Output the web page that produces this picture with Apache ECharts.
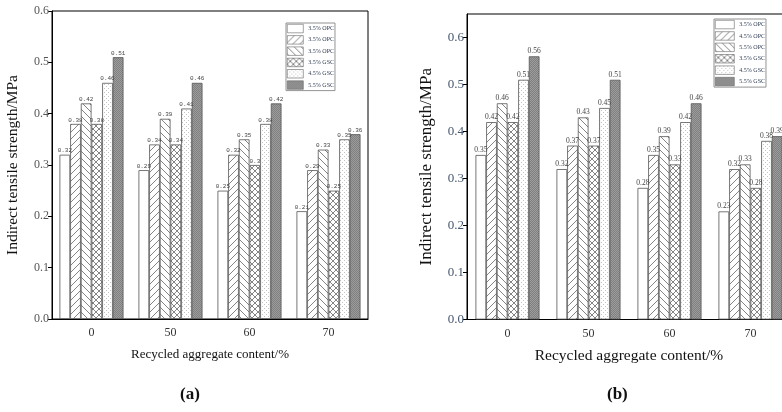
<!DOCTYPE html>
<html>
<head>
<meta charset="utf-8">
<script src="https://cdn.jsdelivr.net/npm/echarts@6/dist/echarts.min.js"></script>
<style>
  html, body { margin: 0; padding: 0; background: #fff; }
  #wrap { position: relative; width: 782px; height: 412px; overflow: hidden; }
  #chartA { position: absolute; left: 0; top: 0; width: 391px; height: 412px; }
  #chartB { position: absolute; left: 391px; top: 0; width: 391px; height: 412px; }
</style>
</head>
<body>
<div id="wrap"><div id="chartA"></div><div id="chartB"></div></div>
<script>
// Recycled aggregate content (%) on the category axis
const categories = ['0', '50', '60', '70'];

// Panel (a): legend labels as printed
const legendA = ['3.5% OPC', '3.5% OPC', '3.5% OPC', '3.5% GSC', '4.5% GSC', '5.5% GSC'];
const a_opc1 = [0.32, 0.29, 0.25, 0.21];
const a_opc2 = [0.38, 0.34, 0.32, 0.29];
const a_opc3 = [0.42, 0.39, 0.35, 0.33];
const a_gsc35 = [0.38, 0.34, 0.30, 0.25];
const a_gsc45 = [0.46, 0.41, 0.38, 0.35];
const a_gsc55 = [0.51, 0.46, 0.42, 0.36];
const yTicksA = [0, 0.1, 0.2, 0.3, 0.4, 0.5, 0.6];

// Panel (b)
const legendB = ['3.5% OPC', '4.5% OPC', '5.5% OPC', '3.5% GSC', '4.5% GSC', '5.5% GSC'];
const b_opc35 = [0.35, 0.32, 0.28, 0.23];
const b_opc45 = [0.42, 0.37, 0.35, 0.32];
const b_opc55 = [0.46, 0.43, 0.39, 0.33];
const b_gsc35 = [0.42, 0.37, 0.33, 0.28];
const b_gsc45 = [0.51, 0.45, 0.42, 0.38];
const b_gsc55 = [0.56, 0.51, 0.46, 0.39];
const yTicksB = [0, 0.1, 0.2, 0.3, 0.4, 0.5, 0.6];

// ---- fill patterns ----
function tile(size) {
  const c = document.createElement('canvas');
  c.width = size; c.height = size;
  const g = c.getContext('2d');
  g.fillStyle = '#fff';
  g.fillRect(0, 0, size, size);
  return [c, g];
}
function hatch(size, dirs, color, lw) {
  const [c, g] = tile(size);
  g.strokeStyle = color; g.lineWidth = lw;
  dirs.forEach(d => {
    g.beginPath();
    if (d === '/') {
      g.moveTo(-1, size + 1); g.lineTo(size + 1, -1);
      g.moveTo(-1, 1); g.lineTo(1, -1);
      g.moveTo(size - 1, size + 1); g.lineTo(size + 1, size - 1);
    } else {
      g.moveTo(-1, -1); g.lineTo(size + 1, size + 1);
      g.moveTo(size - 1, -1); g.lineTo(size + 1, 1);
      g.moveTo(-1, size - 1); g.lineTo(1, size + 1);
    }
    g.stroke();
  });
  return { image: c, repeat: 'repeat' };
}
function dots() {
  const [c, g] = tile(4);
  g.fillStyle = '#c4c4c4';
  g.fillRect(0, 0, 1, 1);
  g.fillRect(2, 2, 1, 1);
  return { image: c, repeat: 'repeat' };
}
function darkTexture() {
  const [c, g] = tile(2);
  g.fillStyle = '#9c9c9c'; g.fillRect(0, 0, 2, 2);
  g.fillStyle = '#808080'; g.fillRect(0, 0, 1, 1); g.fillRect(1, 1, 1, 1);
  return { image: c, repeat: 'repeat' };
}
const fills = [
  '#ffffff',
  hatch(7, ['/'], '#666', 0.8),
  hatch(7, ['\\'], '#666', 0.8),
  hatch(6, ['/', '\\'], '#666', 0.8),
  dots(),
  darkTexture()
];

function makeOption(cfg) {
  const keys = cfg.legend.map((_, i) => cfg.key + i);
  const labelOf = {};
  keys.forEach((k, i) => { labelOf[k] = cfg.legend[i]; });
  return {
    animation: false,
    backgroundColor: '#fff',
    grid: {
      left: cfg.grid.left, top: cfg.grid.top, width: cfg.grid.width, height: cfg.grid.height,
      outerBoundsMode: 'none',
      show: true, borderColor: '#000', borderWidth: 1, backgroundColor: 'transparent'
    },
    legend: {
      data: keys,
      orient: 'vertical',
      left: cfg.legendPos.left, top: cfg.legendPos.top,
      icon: 'rect',
      itemWidth: cfg.legendPos.iw, itemHeight: cfg.legendPos.ih,
      itemGap: cfg.legendPos.gap, itemTextGap: 1.5,
      padding: [1, 1, 1, 1],
      borderColor: '#777', borderWidth: 0.8,
      selectedMode: false,
      itemStyle: { borderColor: '#666', borderWidth: 0.6 },
      formatter: n => labelOf[n],
      textStyle: { fontFamily: 'Liberation Serif', fontSize: cfg.legendPos.fs, color: '#2e3b52' }
    },
    xAxis: {
      type: 'category',
      data: categories,
      name: 'Recycled aggregate content/%',
      nameLocation: 'middle',
      nameGap: cfg.xNameGap,
      nameTextStyle: { fontFamily: 'Liberation Serif', fontSize: cfg.xTitleSize, color: '#111' },
      axisLine: { lineStyle: { color: '#000', width: 1 } },
      axisTick: { show: false },
      axisLabel: { margin: 8, fontFamily: 'Liberation Serif', fontSize: 12, color: '#333' }
    },
    yAxis: {
      type: 'value',
      min: 0, max: cfg.yMax, interval: 0.1,
      name: 'Indirect tensile strength/MPa',
      nameLocation: 'middle',
      nameGap: cfg.yNameGap,
      nameTextStyle: { fontFamily: 'Liberation Serif', fontSize: cfg.yTitleSize, color: '#111' },
      axisLine: { show: true, lineStyle: { color: '#000', width: 1 } },
      axisTick: { show: true, length: 4, customValues: cfg.yTicks, lineStyle: { color: '#000' } },
      splitLine: { show: false },
      axisLabel: {
        margin: 3,
        customValues: cfg.yTicks,
        formatter: v => v.toFixed(1),
        fontFamily: 'Liberation Serif', fontSize: cfg.tickSize, color: cfg.tickColor
      }
    },
    series: cfg.values.map((vals, i) => ({
      type: 'bar',
      name: keys[i],
      data: vals,
      barGap: '0%',
      barCategoryGap: cfg.catGap,
      itemStyle: { color: fills[i], borderColor: '#555', borderWidth: 0.8 },
      label: {
        show: true, position: 'top', distance: 1,
        formatter: p => String(p.value),
        fontFamily: cfg.valueFont, fontSize: cfg.valueSize, color: '#444'
      }
    })),
    graphic: [{
      type: 'text',
      left: cfg.tag.x, top: 386,
      style: { text: cfg.tag.text, font: 'bold 17px "Liberation Serif"', fill: '#111' }
    }]
  };
}

const chartA = echarts.init(document.getElementById('chartA'), null, { renderer: 'canvas' });
chartA.setOption(makeOption({
  key: 'A',
  legend: legendA,
  values: [a_opc1, a_opc2, a_opc3, a_gsc35, a_gsc45, a_gsc55],
  grid: { left: 52, top: 11, width: 316, height: 308 },
  legendPos: { left: 286, top: 23, iw: 16, ih: 8.5, gap: 2.2, fs: 6 },
  yMax: 0.6, yTicks: yTicksA,
  xNameGap: 29, yNameGap: 31, xTitleSize: 13, yTitleSize: 15.5,
  tickSize: 12, tickColor: '#555',
  catGap: '19%',
  valueFont: 'Liberation Mono', valueSize: 6,
  tag: { x: 180, text: '(a)' }
}));

const chartB = echarts.init(document.getElementById('chartB'), null, { renderer: 'canvas' });
chartB.setOption(makeOption({
  key: 'B',
  legend: legendB,
  values: [b_opc35, b_opc45, b_opc55, b_gsc35, b_gsc45, b_gsc55],
  grid: { left: 76, top: 14, width: 324, height: 305.5 },
  legendPos: { left: 323, top: 19, iw: 19, ih: 8.5, gap: 2.3, fs: 6 },
  yMax: 0.65, yTicks: yTicksB,
  xNameGap: 28, yNameGap: 32, xTitleSize: 15.5, yTitleSize: 17,
  tickSize: 13, tickColor: '#46566e',
  catGap: '21%',
  valueFont: 'Liberation Serif', valueSize: 7.5,
  tag: { x: 216, text: '(b)' }
}));
</script>
</body>
</html>
